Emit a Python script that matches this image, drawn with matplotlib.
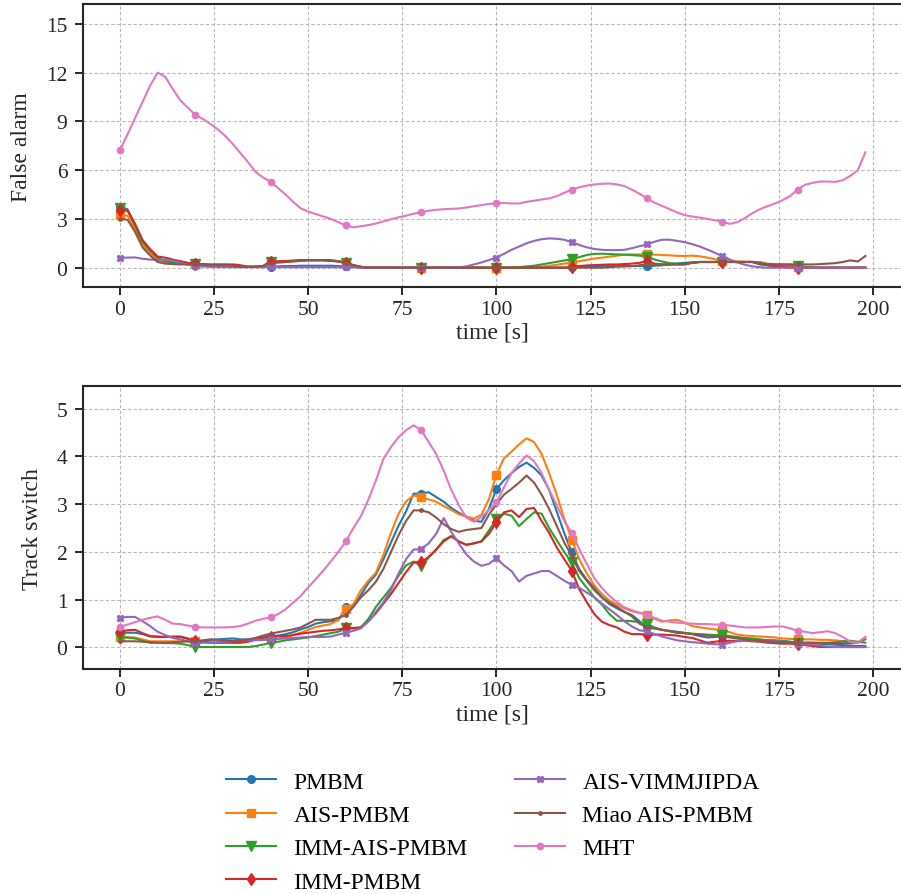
import numpy as np
import matplotlib
matplotlib.use("Agg")
import matplotlib.pyplot as plt

plt.rcParams['font.family'] = ['Liberation Serif', 'DejaVu Serif']
plt.rcParams['mathtext.fontset'] = 'stix'

time = np.arange(0, 200, 2)

methods = ["PMBM", "AIS-PMBM", "IMM-AIS-PMBM", "IMM-PMBM",
           "AIS-VIMMJIPDA", "Miao AIS-PMBM", "MHT"]
colors = ["#1f77b4", "#ff7f0e", "#2ca02c", "#d62728",
          "#9467bd", "#8c564b", "#e377c2"]
markers = ["o", "s", "v", "d", "X", ".", "o"]
msizes = [5.5, 5.5, 6.5, 6.5, 5, 5, 4.5]

# ---------------- False alarm ----------------
fa_pmbm = [3.75, 3.6, 2.6, 1.6, 1.0, 0.55, 0.35, 0.3, 0.28, 0.25,
           0.2, 0.18, 0.15, 0.15, 0.15, 0.12, 0.05, 0.05, 0.05, 0.05,
           0.07, 0.08, 0.1, 0.1, 0.12, 0.12, 0.12, 0.12, 0.12, 0.1,
           0.08, 0.05, 0.02, 0, 0, 0, 0, 0, 0, 0,
           0, 0, 0, 0, 0, 0, 0, 0, 0, 0,
           0, 0, 0, 0, 0, 0, 0, 0, 0, 0,
           0.02, 0.05, 0.08, 0.1, 0.1, 0.1, 0.1, 0.1, 0.1, 0.1,
           0.1, 0.12, 0.15, 0.2, 0.25, 0.3, 0.33, 0.35, 0.35, 0.35,
           0.35, 0.35, 0.35, 0.35, 0.35, 0.2, 0.15, 0.1, 0.08, 0.05,
           0.03, 0, 0, 0, 0, 0, 0, 0, 0, 0]
fa_ais = [3.25, 3.2, 2.4, 1.4, 0.9, 0.45, 0.3, 0.28, 0.25, 0.22,
          0.2, 0.18, 0.15, 0.15, 0.15, 0.12, 0.05, 0.05, 0.06, 0.1,
          0.3, 0.32, 0.35, 0.38, 0.42, 0.45, 0.45, 0.45, 0.42, 0.38,
          0.3, 0.15, 0.05, 0, 0, 0, 0, 0, 0, 0,
          0, 0, 0, 0, 0, 0, 0, 0, 0, 0,
          0, 0, 0, 0, 0, 0.02, 0.06, 0.12, 0.18, 0.25,
          0.31, 0.4, 0.48, 0.56, 0.62, 0.68, 0.74, 0.8, 0.82, 0.82,
          0.82, 0.8, 0.78, 0.76, 0.73, 0.72, 0.74, 0.7, 0.62, 0.52,
          0.41, 0.4, 0.38, 0.37, 0.36, 0.35, 0.25, 0.2, 0.15, 0.1,
          0.02, 0, 0, 0, 0, 0, 0, 0, 0, 0]
fa_immais = [3.65, 3.55, 2.6, 1.6, 1.05, 0.6, 0.4, 0.33, 0.3, 0.28,
             0.25, 0.2, 0.18, 0.18, 0.18, 0.15, 0.05, 0.05, 0.06, 0.1,
             0.35, 0.36, 0.37, 0.4, 0.42, 0.45, 0.45, 0.45, 0.42, 0.38,
             0.3, 0.15, 0.05, 0, 0, 0, 0, 0, 0, 0,
             0, 0, 0, 0, 0, 0, 0, 0, 0, 0,
             0, 0, 0, 0.03, 0.08, 0.12, 0.2, 0.28, 0.36, 0.44,
             0.51, 0.65, 0.78, 0.85, 0.86, 0.84, 0.82, 0.8, 0.77, 0.74,
             0.68, 0.5, 0.38, 0.28, 0.25, 0.25, 0.3, 0.35, 0.35, 0.35,
             0.35, 0.35, 0.35, 0.35, 0.35, 0.3, 0.22, 0.2, 0.2, 0.2,
             0.1, 0.05, 0.02, 0, 0, 0, 0, 0, 0, 0]
fa_imm = [3.55, 3.5, 2.7, 1.7, 1.15, 0.68, 0.62, 0.5, 0.4, 0.3,
          0.25, 0.22, 0.2, 0.2, 0.2, 0.2, 0.15, 0.06, 0.06, 0.1,
          0.38, 0.4, 0.41, 0.44, 0.47, 0.47, 0.47, 0.47, 0.45, 0.4,
          0.3, 0.15, 0.05, 0, 0, 0, 0, 0, 0, 0,
          0, 0, 0, 0, 0, 0, 0, 0, 0, 0,
          0, 0, 0, 0, 0, 0, 0, 0, 0, 0,
          0.02, 0.1, 0.14, 0.16, 0.18, 0.2, 0.2, 0.22, 0.25, 0.3,
          0.41, 0.25, 0.2, 0.2, 0.2, 0.2, 0.3, 0.35, 0.35, 0.35,
          0.35, 0.35, 0.35, 0.35, 0.35, 0.25, 0.15, 0.1, 0.05, 0.02,
          0, 0, 0, 0, 0, 0, 0, 0, 0, 0]
fa_vimm = [0.6, 0.62, 0.63, 0.55, 0.5, 0.48, 0.5, 0.45, 0.3, 0.2,
           0.1, 0.07, 0.05, 0.04, 0.04, 0.03, 0.03, 0.03, 0.03, 0.03,
           0.03, 0.03, 0.03, 0.03, 0.03, 0.03, 0.03, 0.03, 0.03, 0.03,
           0.03, 0.02, 0, 0, 0, 0, 0, 0, 0, 0,
           0, 0, 0, 0, 0, 0.02, 0.08, 0.2, 0.32, 0.47,
           0.62, 0.85, 1.1, 1.3, 1.5, 1.65, 1.75, 1.8, 1.78, 1.72,
           1.57, 1.4, 1.25, 1.15, 1.1, 1.08, 1.08, 1.1, 1.2, 1.32,
           1.43, 1.6, 1.72, 1.72, 1.65, 1.57, 1.45, 1.3, 1.12, 0.92,
           0.71, 0.5, 0.32, 0.18, 0.08, 0.03, 0, 0, 0, 0,
           0, 0, 0, 0, 0, 0, 0, 0, 0, 0]
fa_miao = [3.0, 2.95, 2.2, 1.25, 0.75, 0.35, 0.25, 0.22, 0.2, 0.2,
           0.2, 0.18, 0.15, 0.15, 0.15, 0.12, 0.05, 0.05, 0.06, 0.1,
           0.3, 0.32, 0.35, 0.4, 0.45, 0.47, 0.47, 0.47, 0.45, 0.4,
           0.3, 0.15, 0.05, 0, 0, 0, 0, 0, 0, 0,
           0, 0, 0, 0, 0, 0, 0, 0, 0, 0,
           0, 0, 0, 0, 0, 0, 0, 0, 0, 0,
           0, 0, 0, 0, 0, 0.03, 0.06, 0.08, 0.1, 0.15,
           0.2, 0.2, 0.2, 0.2, 0.2, 0.2, 0.3, 0.35, 0.35, 0.35,
           0.35, 0.35, 0.35, 0.35, 0.35, 0.25, 0.2, 0.2, 0.2, 0.2,
           0.2, 0.2, 0.2, 0.22, 0.25, 0.28, 0.35, 0.45, 0.38, 0.72]
fa_mht = [7.25, 8.2, 9.2, 10.2, 11.2, 12.0, 11.75, 11.0, 10.3, 9.85,
          9.4, 9.15, 8.85, 8.5, 8.1, 7.6, 7.05, 6.5, 5.9, 5.55,
          5.28, 4.9, 4.5, 4.05, 3.65, 3.45, 3.3, 3.15, 3.0, 2.8,
          2.6, 2.48, 2.55, 2.62, 2.72, 2.85, 2.98, 3.1, 3.2, 3.32,
          3.42, 3.5, 3.56, 3.6, 3.62, 3.64, 3.7, 3.78, 3.85, 3.92,
          3.97, 3.98, 3.95, 3.95, 4.05, 4.12, 4.2, 4.26, 4.4, 4.6,
          4.81, 4.95, 5.05, 5.12, 5.16, 5.18, 5.12, 5.02, 4.8, 4.55,
          4.26, 4.0, 3.8, 3.6, 3.4, 3.23, 3.15, 3.08, 3.0, 2.92,
          2.83, 2.7, 2.8, 3.05, 3.35, 3.6, 3.78, 3.95, 4.15, 4.4,
          4.81, 5.1, 5.22, 5.3, 5.3, 5.28, 5.38, 5.65, 6.0, 7.1]

# ---------------- Track switch ----------------
ts_pmbm = [0.31, 0.31, 0.31, 0.28, 0.23, 0.22, 0.22, 0.22, 0.22, 0.18,
           0.13, 0.14, 0.16, 0.17, 0.18, 0.19, 0.17, 0.17, 0.18, 0.2,
           0.23, 0.25, 0.28, 0.32, 0.38, 0.43, 0.5, 0.53, 0.55, 0.57,
           0.84, 0.86, 1.1, 1.35, 1.53, 1.85, 2.2, 2.55, 2.85, 3.22,
           3.22, 3.25, 3.15, 3.05, 2.92, 2.82, 2.74, 2.66, 2.63, 2.9,
           3.32, 3.5, 3.65, 3.78, 3.87, 3.76, 3.6, 3.3, 2.85, 2.4,
           1.99, 1.64, 1.42, 1.25, 1.05, 0.91, 0.82, 0.74, 0.68, 0.55,
           0.42, 0.4, 0.37, 0.35, 0.33, 0.31, 0.28, 0.24, 0.21, 0.22,
           0.24, 0.22, 0.2, 0.18, 0.17, 0.16, 0.15, 0.15, 0.14, 0.12,
           0.1, 0.09, 0.09, 0.08, 0.07, 0.06, 0.05, 0.04, 0.03, 0.03]
ts_ais = [0.21, 0.21, 0.21, 0.17, 0.13, 0.13, 0.13, 0.13, 0.13, 0.13,
          0.13, 0.12, 0.11, 0.1, 0.1, 0.1, 0.11, 0.13, 0.15, 0.16,
          0.17, 0.19, 0.21, 0.26, 0.31, 0.37, 0.43, 0.46, 0.49, 0.58,
          0.8, 0.91, 1.2, 1.4, 1.57, 1.95, 2.4, 2.8, 3.06, 3.18,
          3.15, 3.1, 3.05, 2.96, 2.88, 2.79, 2.74, 2.7, 2.78, 3.1,
          3.62, 3.96, 4.1, 4.25, 4.38, 4.3, 4.05, 3.65, 3.2, 2.7,
          2.26, 1.85, 1.55, 1.3, 1.12, 0.98, 0.9, 0.82, 0.76, 0.72,
          0.69, 0.6, 0.54, 0.57, 0.58, 0.52, 0.45, 0.42, 0.4, 0.38,
          0.37, 0.32, 0.27, 0.25, 0.24, 0.23, 0.22, 0.21, 0.19, 0.18,
          0.17, 0.17, 0.17, 0.16, 0.16, 0.15, 0.13, 0.12, 0.1, 0.22]
ts_immais = [0.21, 0.21, 0.19, 0.14, 0.1, 0.1, 0.09, 0.09, 0.08, 0.05,
             0.01, 0.01, 0.01, 0.01, 0.01, 0.01, 0.01, 0.01, 0.03, 0.06,
             0.1, 0.12, 0.15, 0.17, 0.19, 0.21, 0.24, 0.27, 0.3, 0.33,
             0.4, 0.4, 0.42, 0.6, 0.85, 1.05, 1.25, 1.5, 1.72, 1.8,
             1.71, 1.88, 2.05, 2.25, 2.33, 2.22, 2.15, 2.18, 2.22, 2.45,
             2.68, 2.8, 2.76, 2.54, 2.69, 2.83, 2.8, 2.5, 2.25, 2.0,
             1.78, 1.45, 1.25, 1.05, 0.9, 0.7, 0.56, 0.56, 0.55, 0.53,
             0.49, 0.42, 0.37, 0.34, 0.31, 0.3, 0.29, 0.28, 0.27, 0.26,
             0.26, 0.24, 0.22, 0.2, 0.19, 0.17, 0.15, 0.14, 0.13, 0.12,
             0.1, 0.1, 0.1, 0.1, 0.1, 0.11, 0.13, 0.14, 0.12, 0.1]
ts_imm = [0.34, 0.36, 0.37, 0.3, 0.24, 0.23, 0.22, 0.23, 0.23, 0.19,
          0.14, 0.12, 0.1, 0.1, 0.1, 0.1, 0.1, 0.12, 0.17, 0.21,
          0.23, 0.24, 0.24, 0.26, 0.29, 0.31, 0.33, 0.35, 0.36, 0.38,
          0.4, 0.41, 0.42, 0.55, 0.72, 0.92, 1.12, 1.35, 1.58, 1.78,
          1.78, 1.9, 2.05, 2.22, 2.33, 2.22, 2.15, 2.18, 2.22, 2.38,
          2.62, 2.83, 2.87, 2.73, 2.9, 2.92, 2.65, 2.4, 2.1, 1.85,
          1.61, 1.22, 0.95, 0.7, 0.54, 0.47, 0.42, 0.33, 0.28, 0.28,
          0.27, 0.27, 0.27, 0.26, 0.25, 0.22, 0.2, 0.15, 0.1, 0.12,
          0.14, 0.14, 0.14, 0.14, 0.13, 0.12, 0.1, 0.09, 0.08, 0.08,
          0.07, 0.05, 0.03, 0.01, 0.01, 0.01, 0.01, 0.01, 0.01, 0.01]
ts_vimm = [0.62, 0.64, 0.64, 0.55, 0.45, 0.33, 0.26, 0.2, 0.17, 0.13,
           0.09, 0.1, 0.1, 0.11, 0.12, 0.13, 0.14, 0.15, 0.16, 0.16,
           0.17, 0.18, 0.19, 0.2, 0.21, 0.22, 0.22, 0.22, 0.23, 0.27,
           0.31, 0.35, 0.4, 0.55, 0.75, 0.95, 1.2, 1.55, 1.85, 2.05,
           2.06, 2.18, 2.38, 2.71, 2.42, 2.18, 1.95, 1.8, 1.71, 1.75,
           1.87, 1.72, 1.6, 1.38, 1.5, 1.55, 1.6, 1.6, 1.5, 1.4,
           1.31, 1.25, 1.15, 1.05, 0.92, 0.8, 0.68, 0.55, 0.44, 0.36,
           0.34, 0.28, 0.23, 0.19, 0.15, 0.13, 0.11, 0.1, 0.08, 0.07,
           0.06, 0.1, 0.13, 0.14, 0.14, 0.13, 0.13, 0.13, 0.12, 0.1,
           0.08, 0.07, 0.06, 0.04, 0.02, 0.01, 0.01, 0.01, 0.01, 0.01]
ts_miao = [0.13, 0.13, 0.13, 0.12, 0.11, 0.1, 0.1, 0.11, 0.12, 0.13,
           0.13, 0.15, 0.17, 0.16, 0.14, 0.14, 0.14, 0.17, 0.2, 0.25,
           0.29, 0.32, 0.35, 0.38, 0.42, 0.5, 0.58, 0.58, 0.58, 0.62,
           0.68, 0.85, 1.05, 1.2, 1.38, 1.65, 2.0, 2.35, 2.65, 2.87,
           2.87, 2.83, 2.72, 2.58, 2.48, 2.42, 2.46, 2.48, 2.5, 2.78,
           3.0, 3.2, 3.32, 3.45, 3.6, 3.45, 3.2, 2.9, 2.55, 2.2,
           1.92, 1.6, 1.4, 1.2, 1.05, 0.94, 0.85, 0.75, 0.65, 0.5,
           0.42, 0.4, 0.37, 0.34, 0.31, 0.3, 0.28, 0.26, 0.25, 0.24,
           0.23, 0.21, 0.19, 0.17, 0.15, 0.14, 0.13, 0.12, 0.11, 0.1,
           0.1, 0.1, 0.1, 0.09, 0.09, 0.09, 0.09, 0.09, 0.11, 0.17]
ts_mht = [0.43, 0.48, 0.53, 0.58, 0.62, 0.65, 0.58, 0.5, 0.49, 0.46,
          0.43, 0.42, 0.42, 0.42, 0.42, 0.43, 0.45, 0.5, 0.56, 0.6,
          0.63, 0.7, 0.8, 0.94, 1.08, 1.26, 1.43, 1.61, 1.8, 2.0,
          2.22, 2.5, 2.75, 3.1, 3.5, 3.95, 4.2, 4.4, 4.55, 4.65,
          4.55, 4.3, 4.05, 3.7, 3.3, 2.98, 2.72, 2.63, 2.73, 2.88,
          3.04, 3.35, 3.65, 3.85, 4.02, 3.9, 3.65, 3.3, 2.98, 2.65,
          2.4, 2.06, 1.75, 1.45, 1.25, 1.08, 0.95, 0.84, 0.78, 0.73,
          0.69, 0.62, 0.56, 0.54, 0.52, 0.51, 0.5, 0.49, 0.49, 0.48,
          0.48, 0.46, 0.44, 0.42, 0.42, 0.42, 0.43, 0.44, 0.44, 0.4,
          0.35, 0.33, 0.3, 0.32, 0.34, 0.3, 0.22, 0.12, 0.1, 0.21]

fa_series = [fa_pmbm, fa_ais, fa_immais, fa_imm, fa_vimm, fa_miao, fa_mht]
ts_series = [ts_pmbm, ts_ais, ts_immais, ts_imm, ts_vimm, ts_miao, ts_mht]

fig = plt.figure(figsize=(9.01, 8.95), dpi=100)
ax1 = fig.add_axes([0.0918, 0.678, 0.910, 0.316])
ax2 = fig.add_axes([0.0918, 0.2514, 0.910, 0.316])

TFS = 15.5
LFS = 17
spine_c = "#262626"
for ax, series, ylabel, ylim, yticks in [
        (ax1, fa_series, "False alarm", (-1.2, 16.2), [0, 3, 6, 9, 12, 15]),
        (ax2, ts_series, "Track switch", (-0.45, 5.47), [0, 1, 2, 3, 4, 5])]:
    for vals, name, c, m, ms in zip(series, methods, colors, markers, msizes):
        ax.plot(time, vals, color=c, marker=m, markersize=ms,
                markevery=10, linewidth=1.5, label=name)
    ax.set_xlim(-9.9, 207.9)
    ax.set_ylim(*ylim)
    ax.set_xticks([0, 25, 50, 75, 100, 125, 150, 175, 200])
    ax.set_yticks(yticks)
    ax.grid(True, linestyle=(0, (3, 2)), color="#b8b8b8", linewidth=0.8)
    ax.set_axisbelow(True)
    for s in ax.spines.values():
        s.set_color(spine_c)
        s.set_linewidth(1.5)
    ax.tick_params(direction="out", length=6, width=1.4, colors=spine_c,
                   labelsize=TFS, labelcolor="#262626", pad=3)
    ax.tick_params(axis="y", pad=5)
    ax.set_xlabel("time [s]", fontsize=LFS, color="#262626", labelpad=2)
    ax.set_ylabel(ylabel, fontsize=LFS, color="#262626", labelpad=10)

handles, labels = ax2.get_legend_handles_labels()
fig.legend(handles, labels, loc="upper center", bbox_to_anchor=(0.547, 0.161),
           ncol=2, frameon=False, fontsize=LFS, handlelength=2.1,
           handletextpad=0.76, columnspacing=2.0, labelspacing=0.5)

fig.savefig("out.png", dpi=100)
